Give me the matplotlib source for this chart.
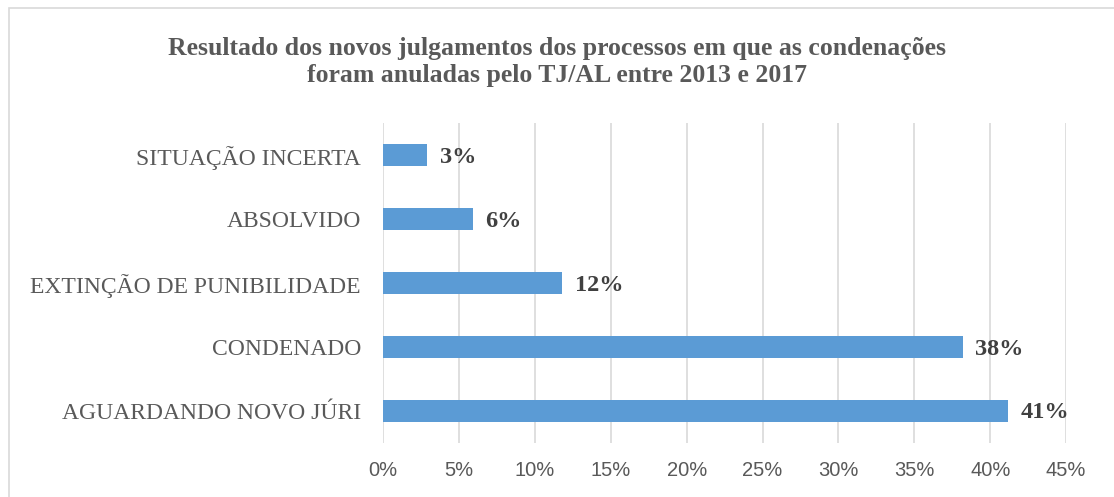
import matplotlib.pyplot as plt
from matplotlib.patches import Rectangle

# data (bottom to top)
categorias = ["AGUARDANDO NOVO JÚRI", "CONDENADO", "EXTINÇÃO DE PUNIBILIDADE",
              "ABSOLVIDO", "SITUAÇÃO INCERTA"]
valores = [41.2, 38.2, 11.8, 5.9, 2.9]
rotulos = ["41%", "38%", "12%", "6%", "3%"]
ticks = [0, 5, 10, 15, 20, 25, 30, 35, 40, 45]

fig = plt.figure(figsize=(11.14, 4.97), dpi=100)
ax = fig.add_axes([0.344, 0.109, 0.613, 0.643])

# chart frame
fig.patches.append(Rectangle((0.008, -0.01), 1.1, 0.994, transform=fig.transFigure,
                             fill=False, edgecolor="#d9d9d9", linewidth=1.2))

y = list(range(len(categorias)))
ax.barh(y, valores, height=0.34, color="#5b9bd5", zorder=3)

for yi, v, r in zip(y, valores, rotulos):
    ax.annotate(r, (v, yi), xytext=(9, -1.5), textcoords="offset points",
                va="center", ha="left", fontsize=17.5, fontweight="bold",
                family="Liberation Serif", color="#404040")

ax.set_xlim(0, 45)
ax.set_ylim(-0.5, 4.5)
ax.set_xticks(ticks)
ax.set_xticklabels([f"{t}%" for t in ticks], family="Liberation Sans",
                   fontsize=14.5, color="#595959")
ax.set_yticks(y)
ax.set_yticklabels(categorias, family="Liberation Serif", fontsize=17, color="#595959")
ax.tick_params(axis="both", length=0)
ax.tick_params(axis="x", pad=13)
ax.tick_params(axis="y", pad=16)
ax.grid(axis="x", color="#d9d9d9", linewidth=1.2, zorder=0)
for s in ax.spines.values():
    s.set_visible(False)

fig.text(0.5, 0.875, "Resultado dos novos julgamentos dos processos em que as condenações\n"
         "foram anuladas pelo TJ/AL entre 2013 e 2017",
         ha="center", va="center", fontsize=18.5, fontweight="bold",
         family="Liberation Serif", color="#595959", linespacing=1.25)

fig.savefig("out.png", dpi=100)
